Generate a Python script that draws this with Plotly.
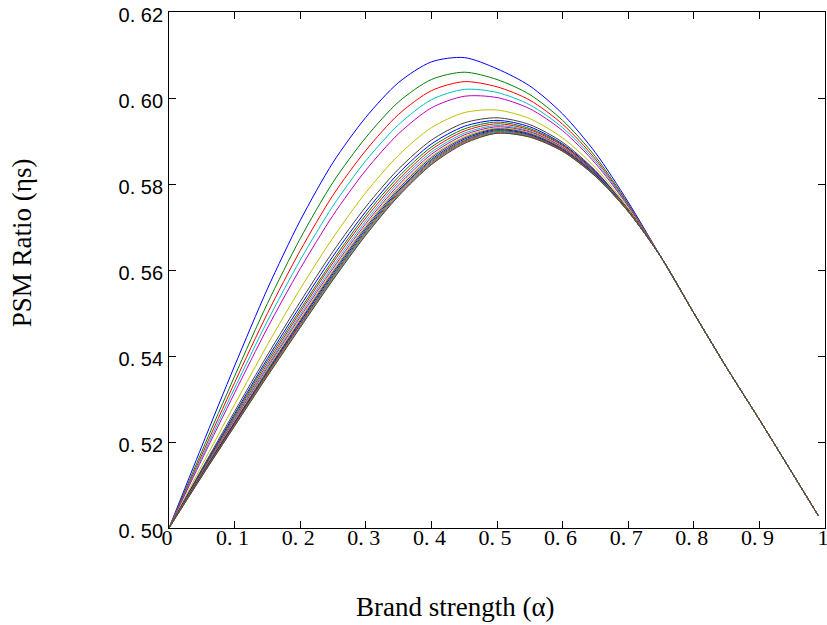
import plotly.graph_objects as go

# Brand strength (alpha) sample points
alpha_head = [0.0, 0.05, 0.10, 0.15, 0.20, 0.25, 0.30, 0.35, 0.40, 0.45, 0.50, 0.55, 0.60, 0.65, 0.70]
alpha_tail = [0.75, 0.80, 0.85, 0.90, 0.95, 0.99]
alpha = alpha_head + alpha_tail

# common descending tail shared by every curve (alpha >= 0.75)
psm_tail = [0.5630, 0.5500, 0.5373, 0.5252, 0.5128, 0.5028]

# PSM ratio curves for alpha 0 .. 0.70 (top curve first)
psm_01 = [0.5000, 0.5190, 0.5377, 0.5556, 0.5715, 0.5850, 0.5955, 0.6036, 0.6084, 0.6094, 0.6068, 0.6028, 0.5963, 0.5873, 0.5758]
psm_02 = [0.5000, 0.5178, 0.5353, 0.5522, 0.5673, 0.5804, 0.5908, 0.5991, 0.6043, 0.6060, 0.6043, 0.6008, 0.5948, 0.5864, 0.5754]
psm_03 = [0.5000, 0.5170, 0.5338, 0.5499, 0.5645, 0.5774, 0.5878, 0.5962, 0.6017, 0.6038, 0.6026, 0.5995, 0.5939, 0.5858, 0.5752]
psm_04 = [0.5000, 0.5164, 0.5325, 0.5481, 0.5623, 0.5749, 0.5854, 0.5938, 0.5996, 0.6020, 0.6013, 0.5984, 0.5931, 0.5853, 0.5750]
psm_05 = [0.5000, 0.5159, 0.5314, 0.5465, 0.5603, 0.5727, 0.5832, 0.5917, 0.5977, 0.6004, 0.6001, 0.5975, 0.5924, 0.5848, 0.5748]
psm_06 = [0.5000, 0.5145, 0.5287, 0.5426, 0.5556, 0.5675, 0.5780, 0.5867, 0.5931, 0.5966, 0.5972, 0.5952, 0.5907, 0.5838, 0.5744]
psm_07 = [0.5000, 0.5137, 0.5271, 0.5402, 0.5526, 0.5643, 0.5747, 0.5835, 0.5902, 0.5942, 0.5954, 0.5938, 0.5897, 0.5831, 0.5741]
psm_08 = [0.5000, 0.5134, 0.5265, 0.5394, 0.5516, 0.5632, 0.5736, 0.5825, 0.5893, 0.5934, 0.5948, 0.5933, 0.5893, 0.5829, 0.5740]
psm_09 = [0.5000, 0.5132, 0.5261, 0.5388, 0.5508, 0.5623, 0.5728, 0.5817, 0.5886, 0.5928, 0.5944, 0.5929, 0.5891, 0.5827, 0.5740]
psm_10 = [0.5000, 0.5130, 0.5257, 0.5382, 0.5502, 0.5617, 0.5721, 0.5810, 0.5880, 0.5923, 0.5940, 0.5926, 0.5889, 0.5826, 0.5739]
psm_11 = [0.5000, 0.5128, 0.5254, 0.5377, 0.5496, 0.5610, 0.5714, 0.5804, 0.5874, 0.5918, 0.5936, 0.5923, 0.5886, 0.5825, 0.5739]
psm_12 = [0.5000, 0.5127, 0.5251, 0.5373, 0.5491, 0.5604, 0.5708, 0.5798, 0.5869, 0.5914, 0.5933, 0.5921, 0.5885, 0.5824, 0.5738]
psm_13 = [0.5000, 0.5126, 0.5248, 0.5369, 0.5486, 0.5599, 0.5703, 0.5793, 0.5864, 0.5910, 0.5930, 0.5919, 0.5883, 0.5822, 0.5738]
psm_14 = [0.5000, 0.5125, 0.5246, 0.5366, 0.5482, 0.5595, 0.5699, 0.5789, 0.5861, 0.5907, 0.5928, 0.5917, 0.5882, 0.5822, 0.5737]
psm_15 = [0.5000, 0.5124, 0.5244, 0.5363, 0.5479, 0.5591, 0.5695, 0.5785, 0.5857, 0.5904, 0.5926, 0.5915, 0.5880, 0.5821, 0.5737]
psm_16 = [0.5000, 0.5123, 0.5242, 0.5361, 0.5475, 0.5587, 0.5691, 0.5782, 0.5854, 0.5901, 0.5924, 0.5913, 0.5879, 0.5820, 0.5737]
psm_17 = [0.5000, 0.5122, 0.5241, 0.5358, 0.5473, 0.5584, 0.5688, 0.5779, 0.5851, 0.5899, 0.5922, 0.5912, 0.5878, 0.5819, 0.5737]
psm_18 = [0.5000, 0.5121, 0.5239, 0.5356, 0.5470, 0.5582, 0.5686, 0.5776, 0.5849, 0.5897, 0.5921, 0.5911, 0.5877, 0.5819, 0.5736]
psm_19 = [0.5000, 0.5121, 0.5238, 0.5355, 0.5468, 0.5579, 0.5683, 0.5774, 0.5847, 0.5896, 0.5919, 0.5910, 0.5877, 0.5818, 0.5736]
psm_20 = [0.5000, 0.5120, 0.5237, 0.5354, 0.5467, 0.5578, 0.5682, 0.5773, 0.5846, 0.5895, 0.5918, 0.5909, 0.5876, 0.5818, 0.5736]
psm_21 = [0.5000, 0.5120, 0.5237, 0.5353, 0.5466, 0.5577, 0.5681, 0.5772, 0.5845, 0.5894, 0.5918, 0.5909, 0.5876, 0.5818, 0.5736]

curves = [psm_01, psm_02, psm_03, psm_04, psm_05, psm_06, psm_07,
          psm_08, psm_09, psm_10, psm_11, psm_12, psm_13, psm_14,
          psm_15, psm_16, psm_17, psm_18, psm_19, psm_20, psm_21]

# MATLAB classic colour order: b g r c m y k
color_cycle = ["#0000FF", "#008000", "#FF0000", "#00BFBF", "#BF00BF", "#BFBF00", "#404040"]

x_tick_vals = [0, 0.1, 0.2, 0.3, 0.4, 0.5, 0.6, 0.7, 0.8, 0.9, 1.0]
x_tick_text = ["0", "0. 1", "0. 2", "0. 3", "0. 4", "0. 5", "0. 6", "0. 7", "0. 8", "0. 9", "1"]
y_tick_vals = [0.50, 0.52, 0.54, 0.56, 0.58, 0.60, 0.62]
y_tick_text = ["0. 50", "0. 52", "0. 54", "0. 56", "0. 58", "0. 60", "0. 62"]

fig = go.Figure()
for i, head in enumerate(curves):
    fig.add_trace(go.Scatter(
        x=alpha, y=head + psm_tail, mode="lines",
        line=dict(color=color_cycle[i % 7], width=1, shape="spline", smoothing=0.8),
        showlegend=False, hoverinfo="skip"))

axis_common = dict(showline=True, linecolor="black", linewidth=1, mirror="ticks",
                   ticks="inside", ticklen=7, tickcolor="black", tickwidth=1,
                   showgrid=False, zeroline=False, automargin=False,
                   ticklabeloverflow="allow")

fig.update_xaxes(range=[0, 1], tickvals=x_tick_vals, ticktext=x_tick_text,
                 tickfont=dict(family="Liberation Serif", size=22, color="black"),
                 ticklabelstandoff=-10, ticklabelshift=-2, **axis_common)
fig.update_yaxes(range=[0.50, 0.62], tickvals=y_tick_vals, ticktext=y_tick_text,
                 tickfont=dict(family="Liberation Sans", size=20, color="black"),
                 ticklabelstandoff=1, ticklabelshift=3, **axis_common)

fig.add_annotation(text="Brand strength (\u03b1)", xref="paper", yref="paper",
                   x=0.436, y=-0.153, showarrow=False, xanchor="center", yanchor="middle",
                   font=dict(family="Liberation Serif", size=27, color="black"))
fig.add_annotation(text="PSM Ratio (\u03b7s)", xref="paper", yref="paper",
                   x=-0.224, y=0.552, showarrow=False, textangle=-90,
                   xanchor="center", yanchor="middle",
                   font=dict(family="Liberation Serif", size=27, color="black"))

# plot box at page x 169..825, y 12..528 (page body margin removed below)
fig.update_layout(width=827, height=625, plot_bgcolor="white", paper_bgcolor="white",
                  margin=dict(l=169, r=2, t=12, b=97), showlegend=False)

fig.write_html("out.html", config={"displayModeBar": False},
               post_script="document.body.style.margin='0px';")
